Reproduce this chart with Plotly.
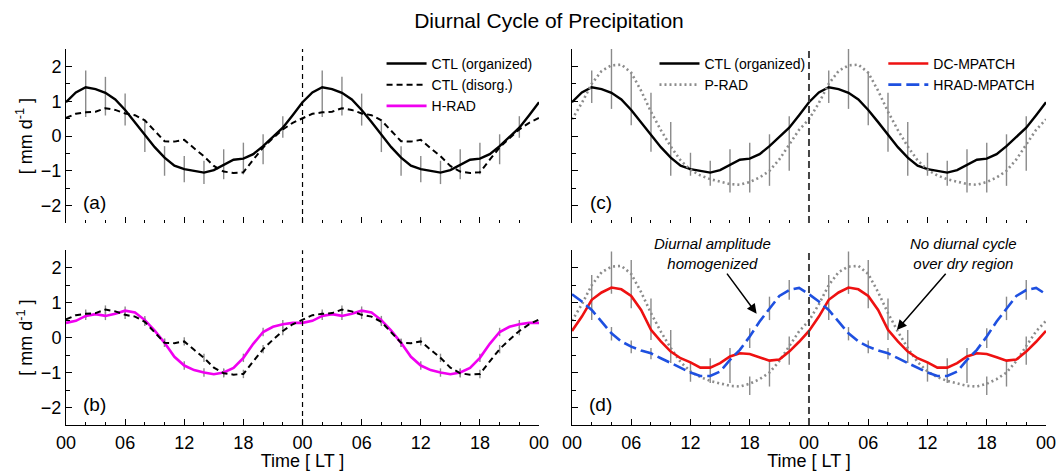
import plotly.graph_objects as go

# ---------------- data (daily cycle, hour 0..23, repeated for two days) -------------
hours_day = list(range(24))
ctl_org = [0.97, 1.25, 1.40, 1.35, 1.24, 1.05, 0.75, 0.40, 0.05, -0.32, -0.62, -0.85,
           -0.95, -1.00, -1.05, -0.98, -0.82, -0.68, -0.65, -0.52, -0.29, -0.02, 0.24, 0.60]
ctl_dis = [0.52, 0.64, 0.68, 0.70, 0.80, 0.75, 0.65, 0.60, 0.45, 0.16, -0.15, -0.16,
           -0.11, -0.35, -0.58, -0.86, -1.02, -1.06, -1.04, -0.68, -0.33, -0.06, 0.19, 0.38]
h_rad = [0.42, 0.48, 0.62, 0.67, 0.62, 0.68, 0.77, 0.72, 0.50, 0.20, -0.15, -0.55,
         -0.80, -0.93, -1.00, -1.05, -1.00, -0.87, -0.58, -0.18, 0.16, 0.31, 0.38, 0.42]
p_rad = [0.48, 0.95, 1.50, 1.87, 2.03, 2.05, 1.82, 1.30, 0.70, 0.17, -0.30, -0.70,
         -0.97, -1.13, -1.24, -1.31, -1.38, -1.40, -1.32, -1.19, -1.00, -0.67, -0.24, 0.18]
dc_mpatch = [0.19, 0.60, 1.08, 1.29, 1.43, 1.38, 1.19, 0.79, 0.22, -0.11, -0.40, -0.59,
             -0.71, -0.86, -0.86, -0.73, -0.54, -0.45, -0.47, -0.56, -0.66, -0.63, -0.40, -0.12]
hrad_mpatch = [1.24, 1.03, 0.79, 0.46, 0.12, -0.11, -0.26, -0.37, -0.45, -0.59, -0.73, -0.86,
               -1.00, -1.10, -1.10, -0.97, -0.64, -0.35, 0.03, 0.46, 0.84, 1.19, 1.36, 1.42]

# error-bar extents (lo, hi) at even hours of each day
bar_hours = [2, 4, 6, 8, 10, 12, 14, 16, 18, 20, 22]
bars_a_lo = [0.55, 0.59, 0.30, -0.46, -1.14, -1.33, -1.38, -1.24, -1.10, -0.81, -0.05]
bars_a_hi = [1.88, 1.70, 1.22, 0.43, -0.29, -0.57, -0.71, -0.38, -0.19, 0.05, 0.57]
bar_b_half = 0.12
bars_c_lo = [0.95, 0.78, 0.31, -0.45, -1.14, -1.14, -1.43, -1.62, -1.62, -1.43, -1.00]
bars_c_hi = [1.88, 2.50, 1.84, 1.24, 0.40, -0.48, -0.71, -0.38, -0.19, 0.05, 0.57]
bars_d_hour = [2, 4, 4, 6, 6, 8, 8, 10, 12, 14, 16, 18, 18, 20, 20, 22, 22]
bars_d_lo = [0.50, 1.25, -0.08, 0.84, -0.45, -0.07, -0.62, -0.73, -1.26, -1.30, -1.30,
             -0.30, -1.64, 0.50, -1.40, 1.08, -0.78]
bars_d_hi = [1.79, 2.46, 0.30, 2.22, -0.08, 1.12, -0.30, 0.22, -0.69, -0.59, -0.30,
             0.27, -1.11, 1.17, -0.64, 1.65, 0.03]

tick_vals = [0, 6, 12, 18, 24, 30, 36, 42, 48]
tick_text = ["00", "06", "12", "18", "00", "06", "12", "18", "00"]
midnight = 24
day_len = 24

# ---------------- helpers ----------------
x_full = hours_day + [h + day_len for h in hours_day] + [2 * day_len]


def two_days(v):
    return v + v + [v[0]]


def bar_xy(hrs, lo, hi):
    xs, ys = [], []
    for d in (0, day_len):
        for h, l, u in zip(hrs, lo, hi):
            xs += [h + d, h + d, None]
            ys += [l, u, None]
    return xs, ys


def bars_on(series, half):
    lo = [series[h] - half for h in bar_hours]
    hi = [series[h] + half for h in bar_hours]
    return lo, hi


FONT = "Liberation Sans, Arial, Helvetica, sans-serif"
BAR_COLOR = "#8a8a8a"

fig = go.Figure()

axes = {
    "a": ("x", "y"),
    "b": ("x3", "y3"),
    "c": ("x2", "y2"),
    "d": ("x4", "y4"),
}


def add_bars(panel, xs, ys):
    xa, ya = axes[panel]
    fig.add_trace(go.Scatter(x=xs, y=ys, mode="lines", xaxis=xa, yaxis=ya,
                             line=dict(color=BAR_COLOR, width=1.4),
                             showlegend=False, hoverinfo="skip"))


def add_line(panel, y, name, color, dash="solid", width=2.4, legend=None):
    xa, ya = axes[panel]
    fig.add_trace(go.Scatter(x=x_full, y=two_days(y), mode="lines", name=name,
                             xaxis=xa, yaxis=ya,
                             line=dict(color=color, width=width, dash=dash),
                             showlegend=legend is not None,
                             legend=legend if legend else "legend"))


BLACK = "#000000"
MAGENTA = "#f000f0"
GRAY = "#8c8c8c"
RED = "#ee1111"
BLUE = "#1e50e0"
DIS_DASH = "6px,4px"
DOT = "2px,3px"
LONG = "13px,5px"

# panel (a)
add_bars("a", *bar_xy(bar_hours, bars_a_lo, bars_a_hi))
add_line("a", ctl_org, "CTL (organized)", BLACK, legend="legend")
add_line("a", ctl_dis, "CTL (disorg.)", BLACK, dash=DIS_DASH, width=2.0, legend="legend")

# panel (b)
lo1, hi1 = bars_on(ctl_dis, bar_b_half)
lo2, hi2 = bars_on(h_rad, bar_b_half)
add_bars("b", *bar_xy(bar_hours, lo1, hi1))
add_bars("b", *bar_xy(bar_hours, lo2, hi2))
add_line("b", h_rad, "H-RAD", MAGENTA, width=2.6, legend="legend")
add_line("b", ctl_dis, "CTL (disorg.)", BLACK, dash=DIS_DASH, width=2.0)

# panel (c)
add_bars("c", *bar_xy(bar_hours, bars_c_lo, bars_c_hi))
add_line("c", ctl_org, "CTL (organized)", BLACK, legend="legend2")
add_line("c", p_rad, "P-RAD", GRAY, dash=DOT, width=2.6, legend="legend2")

# panel (d)
add_bars("d", *bar_xy(bars_d_hour, bars_d_lo, bars_d_hi))
add_line("d", p_rad, "P-RAD", GRAY, dash=DOT, width=2.6)
add_line("d", dc_mpatch, "DC-MPATCH", RED, width=2.6, legend="legend3")
add_line("d", hrad_mpatch, "HRAD-MPATCH", BLUE, dash=LONG, width=2.6, legend="legend3")

# ---------------- axes ----------------
xl = [0.0, 0.4827]
xr = [0.5163, 1.0]
yt = [0.537, 1.0]
yb = [0.0, 0.465]

tickfont = dict(family=FONT, size=18, color="black")


def xaxis(domain, anchor, bottom):
    ax = dict(domain=domain, anchor=anchor, range=[0, 48], tickvals=tick_vals,
              ticktext=tick_text, showticklabels=bottom, ticks="inside", ticklen=6,
              tickcolor="black", tickwidth=1, automargin=False,
              minor=dict(dtick=2, ticks="inside", ticklen=3, tickcolor="black", tickwidth=1),
              showline=bottom, linecolor="black", linewidth=1, mirror=False,
              showgrid=False, zeroline=False, tickfont=tickfont,
              ticklabelstandoff=1)
    if bottom:
        ax["title"] = dict(text="Time [ LT ]", standoff=6,
                           font=dict(family=FONT, size=18, color="black"))
    return ax


def yaxis(domain, anchor, left):
    ax = dict(domain=domain, anchor=anchor, range=[-2.5, 2.5], dtick=1,
              showticklabels=left, ticks="inside", ticklen=6, tickcolor="black",
              tickwidth=1, automargin=False,
              minor=dict(dtick=0.5, ticks="inside", ticklen=4, tickcolor="black", tickwidth=1),
              showline=True, linecolor="black", linewidth=1, showgrid=False,
              zeroline=False, tickfont=tickfont)
    if left:
        ax["title"] = dict(text="[ mm d<sup>-1</sup> ]", standoff=3,
                           font=dict(family=FONT, size=18, color="black"))
    return ax


fig.update_layout(
    xaxis=xaxis(xl, "y", False),
    yaxis=yaxis(yt, "x", True),
    xaxis2=xaxis(xr, "y2", False),
    yaxis2=yaxis(yt, "x2", False),
    xaxis3=xaxis(xl, "y3", True),
    yaxis3=yaxis(yb, "x3", True),
    xaxis4=xaxis(xr, "y4", True),
    yaxis4=yaxis(yb, "x4", False),
)

# midnight reference lines
for panel, col, w, dsh in [("a", "black", 1.2, "5px,4px"), ("b", "black", 1.2, "5px,4px"),
                           ("c", "#444444", 2.0, "7px,4px"), ("d", "#444444", 2.0, "7px,4px")]:
    xa, ya = axes[panel]
    fig.add_shape(type="line", xref=xa, yref=f"{ya} domain", x0=midnight, x1=midnight,
                  y0=0, y1=1, line=dict(color=col, width=w, dash=dsh), layer="above")

# panel labels
for panel, lab in [("a", "(a)"), ("b", "(b)"), ("c", "(c)"), ("d", "(d)")]:
    xa, ya = axes[panel]
    fig.add_annotation(x=2.9, y=-1.9, xref=xa, yref=ya, text=lab, showarrow=False,
                       font=dict(family=FONT, size=19, color="black"))

# text annotations with arrows in (d): text sits at the arrow tail
afont = dict(family=FONT, size=15, color="black")
fig.add_annotation(x=18.7, y=0.68, ax=14.2, ay=2.4, xref="x4", yref="y4",
                   axref="x4", ayref="y4",
                   text="<i>Diurnal amplitude</i><br><i>homogenized</i>",
                   showarrow=True, arrowhead=2, arrowsize=1.3, arrowwidth=1.5,
                   arrowcolor="black", font=afont, borderpad=1)
fig.add_annotation(x=32.9, y=0.22, ax=39.6, ay=2.4, xref="x4", yref="y4",
                   axref="x4", ayref="y4",
                   text="<i>No diurnal cycle</i><br><i>over dry region</i>",
                   showarrow=True, arrowhead=2, arrowsize=1.3, arrowwidth=1.5,
                   arrowcolor="black", font=afont, borderpad=1)

legfont = dict(family=FONT, size=14, color="black")
leg_common = dict(bgcolor="rgba(0,0,0,0)", borderwidth=0, font=legfont,
                  xanchor="left", yanchor="top", tracegroupgap=0, itemwidth=40,
                  traceorder="normal")

fig.update_layout(
    width=1057, height=471,
    margin=dict(l=66, r=11, t=49, b=46, autoexpand=False),
    paper_bgcolor="white", plot_bgcolor="white",
    font=dict(family=FONT, color="black"),
    title=dict(text="Diurnal Cycle of Precipitation", x=0.5194, xref="container",
               xanchor="center", y=0.957, yref="container", yanchor="middle",
               font=dict(family=FONT, size=21, color="black")),
    legend=dict(x=0.322, y=1.003, **leg_common),
    legend2=dict(x=0.6005, y=1.003, **leg_common),
    legend3=dict(x=0.834, y=1.003, **leg_common),
    showlegend=True,
)

fig.write_html("out.html")
